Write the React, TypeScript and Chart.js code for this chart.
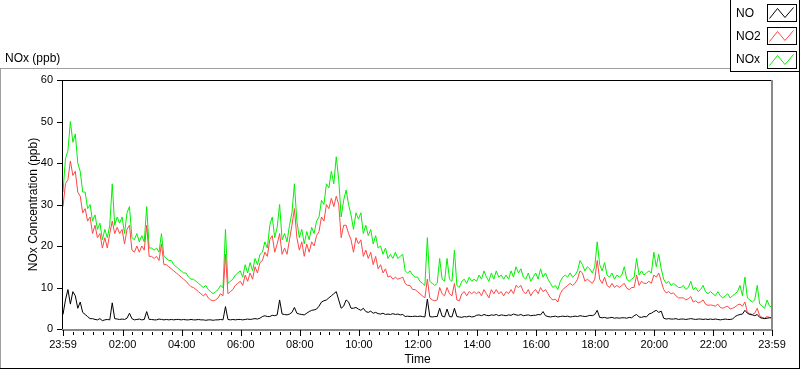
import { useEffect, useRef } from 'react';
import { Chart, registerables } from 'chart.js';
Chart.register(...registerables);

const STEP_MINUTES = 5;

const SERIES_NAMES = ['NO', 'NO2', 'NOx'];
const SERIES_COLORS = ['#000000', '#ff4646', '#00f000'];

// NO (ppb), every 5 minutes from 23:59
const NO = [
  3.5, 7, 9.5, 6, 9, 8, 5, 6.5, 4, 3.5, 3, 2.5,
  2.5, 2.3, 2.2, 2.5, 2, 2.2, 2.3, 2.2, 6.3, 2.5, 2.4, 2.3,
  2.4, 2.3, 2.6, 3.8, 2.5, 2.2, 2.3, 2.4, 2.2, 2.3, 4.2, 2.3,
  2.3, 2.2, 2.2, 2.4, 2.3, 2.2, 2.3, 2.2, 2.3, 2.2, 2.3, 2.3,
  2.2, 2.3, 2.2, 2.2, 2.3, 2.2, 2.2, 2.3, 2.2, 2.2, 2.1, 2.2,
  2.2, 2.1, 2.2, 2.2, 2.3, 2.2, 5.4, 2.3, 2.2, 2.3, 2.2, 2.3,
  2.3, 2.2, 2.3, 2.4, 2.3, 2.4, 2.5, 2.4, 2.6, 3, 3.2, 3,
  3, 3.3, 3.2, 3.4, 7, 3.6, 3.5, 3.4, 3.6, 4, 5.2, 3.8,
  3.6, 3.5, 3.4, 3.8, 4.2, 4.5, 4.6, 4.8, 5.5, 6.5, 6.8, 7,
  7.5, 8, 8.5, 9, 7, 5, 5.5, 7, 6.5, 5, 5, 5.2,
  4.8, 4.5, 5, 4.2, 4, 4.3, 3.8, 4, 3.7, 3.6, 3.8, 3.5,
  3.6, 3.5, 3.7, 3.5, 3.6, 3.4, 3.5, 3, 3.1, 3, 3, 3.1,
  3, 3.1, 3, 2.9, 7.2, 3, 2.9, 3, 3, 5, 3.1, 2.9,
  4.8, 3, 2.9, 5, 3, 2.9, 2.8, 3, 2.9, 3.1, 2.9, 3,
  3.3, 3.4, 3.2, 3.5, 3.3, 3.2, 3.4, 3.3, 3.5, 3.2, 3.4, 3.3,
  3.2, 3.4, 3.3, 3.6, 3.4, 3.3, 3.5, 3.2, 3.3, 3.4, 3.2, 3.3,
  3.3, 3.5, 3.4, 4.2, 3.2, 3, 2.9, 3, 3.1, 2.9, 3, 3.1,
  3, 3.1, 2.9, 3, 3.1, 3, 3.2, 3.1, 3, 3.1, 3.3, 3.2,
  3.5, 4.5, 2.8, 2.7, 2.8, 2.6, 2.7, 2.8, 2.6, 2.7, 2.6, 2.7,
  2.7, 2.6, 2.8, 2.7, 3.2, 3.5, 2.9, 2.8, 3, 2.9, 3.6, 3.8,
  4.2, 4.5, 4, 4.3, 2.6, 2.4, 2.5, 2.4, 2.4, 2.5, 2.3, 2.4,
  2.4, 2.3, 2.4, 2.5, 2.4, 2.3, 2.4, 2.4, 2.3, 2.4, 2.3, 2.4,
  2.3, 2.4, 2.3, 2.2, 2.3, 2.4, 2.3, 2.3, 2.4, 3, 3.3, 3.5,
  3.6, 4.5, 3.8, 3.5, 3.4, 3.2, 3.5, 2.8, 2.6, 2.5, 2.6, 2.7, 2.7,
];

// NO2 (ppb)
const NO2 = [
  29.5, 35, 36, 40.5, 37, 38, 33, 32, 28, 29, 26, 27,
  23, 25, 22, 23, 19.5, 22, 19.5, 23, 26, 23, 24.5, 23,
  24, 20.5, 24, 25, 19, 18.5, 20, 18.5, 20, 19, 25, 17.5,
  17.5, 17, 17.5, 16.5, 20.5, 15.5, 15.5, 15, 14.5, 14, 13.5, 13,
  12.5, 12, 11.5, 10.8, 10.2, 10, 9.5, 9, 8.5, 8, 8.5, 7.5,
  7, 6.8, 7, 7.5, 8.5, 8, 18, 8.5, 9, 9.5, 10.5, 11,
  11.5, 10.5, 13, 11.5, 13.5, 12, 15, 13.5, 16, 16.5, 18.5, 17.5,
  21.5, 22.5, 18.5, 20.5, 23, 18, 19.5, 18, 21.5, 25, 29, 22,
  19, 21, 17.5, 20.5, 18.5, 21, 20, 22.5, 23.5, 27, 26, 30,
  29, 31.5, 29.5, 32, 30, 22, 25, 25, 23, 21.5, 18.5, 22,
  20.5, 21.5, 17.5, 19, 17, 18.5, 15.5, 17.5, 14.5, 15.5, 13.5, 14.5,
  12.5, 12.8, 12, 12.5, 12, 12.2, 12.5, 11, 10.5, 10.5, 9.5, 9.5,
  9, 8.5, 8, 7.5, 12, 7.5, 7, 6.8, 7, 10, 8.5, 8,
  10, 8.5, 8, 11, 7, 6.8, 8.5, 9, 8, 9, 8.5, 9,
  8.5, 9, 8, 9.5, 8.5, 7.5, 9.5, 8.5, 9.5, 8.5, 9, 8,
  9, 8.5, 9.5, 8.5, 10.5, 10, 10.5, 9, 8.5, 9.5, 8, 9,
  9.5, 8.5, 10, 9, 9.5, 8.5, 7.5, 7, 7.2, 6.5, 8.5, 9.5,
  10, 10.5, 11, 10.5, 11, 12, 14, 13.5, 11.5, 12, 11.5, 11,
  12, 16.5, 12, 11, 12.5, 10.5, 10, 11, 10, 10.5, 10, 10.5,
  11, 9.8, 9.5, 10, 10, 13, 10.5, 11.5, 11, 11, 11.5, 11,
  13, 12.5, 13.5, 11.5, 9.5, 8.7, 9, 8.5, 8.7, 8, 7.5, 7.5,
  7.5, 7, 7.3, 7.8, 6.5, 6.8, 6.3, 6.5, 7, 6, 5.7, 5.8,
  5.7, 5.5, 6, 5.2, 5, 5.3, 5.5, 4.8, 5, 5.3, 5.8, 6,
  5.5, 6.5, 4, 3.7, 3.5, 3.8, 5, 3.2, 2.8, 2.6, 3, 2.8, 2.6,
];

// NOx (ppb)
const NOX = [
  33, 41, 43, 50, 45, 47, 40, 38, 33, 33, 29, 30,
  26, 27.5, 24, 25.5, 21.5, 24, 22, 25, 35, 25, 27, 25.5,
  27, 23, 28, 29.5, 22, 21.5, 23, 21, 22.5, 21, 29.5, 19.5,
  19.5, 19, 19.5, 18.5, 23, 17.5, 17, 16.5, 16.5, 15.5, 15, 14.5,
  14, 13.5, 13.5, 12.5, 12, 12, 11.5, 11, 10.5, 10, 10.5, 9.5,
  9, 8.5, 9, 9.5, 10.5, 10, 24, 11, 11.5, 12, 13, 13.5,
  14, 12.5, 15.5, 13.5, 16, 14, 17, 15.5, 18, 18.5, 21, 19.5,
  25, 27, 22, 24.5, 30, 21.5, 23, 21, 25, 28, 35, 26,
  22, 24, 20.5, 23.5, 21.5, 24.5, 23, 26, 27, 31, 30, 35,
  34, 38, 35, 41.5, 36, 27, 31, 33.5, 30, 27.5, 24, 28,
  26.5, 28, 23, 25, 22.5, 24, 20.5, 22.5, 19.5, 20, 18, 19.5,
  17, 18, 17, 18.5, 17, 17.5, 18, 14, 13.5, 14, 13, 12.5,
  12.5, 11.5, 11, 10.5, 22, 11.5, 11, 10.5, 11, 17, 12, 11.5,
  17, 12, 11.5, 19, 10.5, 10, 11.5, 12, 11, 12.5, 11.5, 12,
  11.5, 13, 12, 14, 12.5, 11.5, 13.5, 12, 14, 12.5, 13, 12,
  13, 12, 14, 12.5, 15, 13.5, 14.5, 12.5, 12, 13.5, 11.5, 12.5,
  13.5, 12, 14.5, 12.5, 13.5, 12, 11, 10, 10.5, 9.5, 11.5, 12.5,
  13, 12.5, 13.5, 12.5, 13, 14, 16.5, 15.5, 14, 15, 14.5, 13.5,
  15, 21, 15.5, 14, 16, 13, 12.5, 13.5, 12, 13, 12.5, 13,
  15, 12, 11.5, 12, 12.5, 17, 13, 14, 13, 13.5, 14, 13.5,
  18.5, 15, 18, 14.5, 12, 11, 11.5, 10.5, 11, 10.5, 10, 10,
  10.5, 9.5, 10, 11.5, 9.5, 10, 9, 9.5, 10.5, 9, 8.5, 9,
  8.5, 8, 9, 8, 7.5, 8, 8.5, 7.5, 8, 8.5, 9, 10.5,
  8, 12.5, 7.5, 7, 6.5, 7, 10.5, 6, 5.5, 5, 7, 5.5, 5.3,
];

const X_TICK_MINUTES = [0, 121, 241, 361, 481, 601, 721, 841, 961, 1081, 1201, 1321, 1440];
const X_TICK_LABELS = ['23:59', '02:00', '04:00', '06:00', '08:00', '10:00', '12:00', '14:00', '16:00', '18:00', '20:00', '22:00', '23:59'];
const Y_TICKS = [0, 10, 20, 30, 40, 50, 60];

const TITLE = 'NOx (ppb)';
const X_TITLE = 'Time';
const Y_TITLE = 'NOx Concentration (ppb)';

const FONT = '"Liberation Sans", Arial, sans-serif';

const framePlugin = {
  id: 'frame',
  afterDraw(chart: any) {
    const ctx = chart.ctx as CanvasRenderingContext2D;
    const xs = chart.scales.x;
    const ys = chart.scales.y;
    const ca = chart.chartArea;
    ctx.save();
    // outer frame
    ctx.fillStyle = '#a0a0a0';
    ctx.fillRect(0, 68, 730, 1);
    ctx.fillRect(0, 68, 1, 301);
    ctx.fillStyle = '#000';
    ctx.fillRect(0, 368, 800, 1);
    ctx.fillRect(799, 0, 1, 369);
    // legend box
    ctx.fillStyle = '#fff';
    ctx.fillRect(730, 0, 69, 71);
    ctx.fillStyle = '#000';
    ctx.fillRect(730, 0, 1, 72);
    ctx.fillRect(730, 71, 70, 1);
    ctx.fillRect(799, 0, 1, 72);
    ctx.font = '12px ' + FONT;
    ctx.textBaseline = 'middle';
    ctx.textAlign = 'left';
    for (let i = 0; i < SERIES_NAMES.length; i++) {
      const cy = 13 + i * 23.3;
      ctx.fillStyle = '#000';
      ctx.fillText(SERIES_NAMES[i], 736, cy + 0.5);
      const bx = 767, by = Math.round(cy - 9);
      ctx.strokeStyle = '#000';
      ctx.lineWidth = 1;
      ctx.strokeRect(bx + 0.5, by + 0.5, 29, 17);
      ctx.strokeStyle = SERIES_COLORS[i];
      ctx.beginPath();
      ctx.moveTo(bx + 2.5, by + 14.5);
      ctx.lineTo(bx + 10.5, by + 4.5);
      ctx.lineTo(bx + 18, by + 13.5);
      ctx.lineTo(bx + 26.5, by + 3.5);
      ctx.stroke();
    }
    // title
    ctx.fillStyle = '#000';
    ctx.font = '12px ' + FONT;
    ctx.fillText(TITLE, 5, 59);
    // plot frame
    ctx.fillStyle = '#000';
    ctx.fillRect(ca.left - 1, ca.top, 1, ca.bottom - ca.top + 1);
    ctx.fillRect(ca.left - 1, ca.top, ca.right - ca.left + 1, 1);
    ctx.fillStyle = '#8a8a8a';
    ctx.fillRect(ca.right - 1, ca.top, 2, ca.bottom - ca.top + 2);
    ctx.fillRect(ca.left - 1, ca.bottom, ca.right - ca.left + 2, 2);
    // y ticks
    ctx.fillStyle = '#000';
    for (const v of Y_TICKS) {
      const y = Math.round(ys.getPixelForValue(v));
      ctx.fillRect(ca.left - 6, y, 5, 1);
    }
    // x ticks
    for (const m of X_TICK_MINUTES) {
      const x = Math.round(xs.getPixelForValue(m));
      ctx.fillRect(x, ca.bottom + 1, 1, 6);
    }
    for (let m = 21; m < 1440; m += 20) {
      if ((m - 1) % 120 === 0) continue;
      const x = Math.round(xs.getPixelForValue(m));
      ctx.fillRect(x, ca.bottom + 3, 1, 3);
    }
    ctx.restore();
  },
};

export default function App() {
  const ref = useRef<HTMLCanvasElement | null>(null);
  useEffect(() => {
    if (!ref.current) return;
    const series = [NO, NO2, NOX];
    const chart = new Chart(ref.current, {
      type: 'line',
      data: {
        datasets: series.map((arr, i) => ({
          label: SERIES_NAMES[i],
          data: arr.map((v, k) => ({ x: k * STEP_MINUTES, y: v })),
          borderColor: SERIES_COLORS[i],
          backgroundColor: SERIES_COLORS[i],
          borderWidth: 1,
          pointRadius: 0,
          tension: 0,
          fill: false,
        })),
      },
      options: {
        animation: false,
        responsive: false,
        maintainAspectRatio: false,
        events: [],
        layout: { padding: { top: 80, right: 28, left: 0, bottom: 0 } },
        plugins: { legend: { display: false }, tooltip: { enabled: false } },
        scales: {
          x: {
            type: 'linear',
            min: 0,
            max: 1440,
            afterBuildTicks: (s: any) => {
              s.ticks = X_TICK_MINUTES.map((v) => ({ value: v }));
            },
            afterFit: (s: any) => {
              s.height = 40;
            },
            ticks: {
              autoSkip: false,
              maxRotation: 0,
              minRotation: 0,
              padding: 9,
              color: '#000',
              font: { family: FONT, size: 11, lineHeight: 1.2 },
              callback: (v: any) => {
                const i = X_TICK_MINUTES.indexOf(Number(v));
                return i >= 0 ? X_TICK_LABELS[i] : '';
              },
            },
            grid: { display: false, drawTicks: false },
            border: { display: false },
            title: {
              display: true,
              text: X_TITLE,
              color: '#000',
              font: { family: FONT, size: 12, lineHeight: 1.2 },
              padding: { top: 0, bottom: 2 },
            },
          },
          y: {
            type: 'linear',
            min: 0,
            max: 60,
            afterBuildTicks: (s: any) => {
              s.ticks = Y_TICKS.map((v) => ({ value: v }));
            },
            afterFit: (s: any) => {
              s.width = 63;
            },
            ticks: {
              padding: 10,
              color: '#000',
              font: { family: FONT, size: 11, lineHeight: 1.2 },
            },
            grid: { display: false, drawTicks: false },
            border: { display: false },
            title: {
              display: true,
              text: Y_TITLE,
              color: '#000',
              font: { family: FONT, size: 12, lineHeight: 1.2 },
              padding: { top: 26, bottom: 0 },
            },
          },
        },
      },
      plugins: [framePlugin],
    } as any);
    return () => chart.destroy();
  }, []);
  return (
    <div style={{ position: 'absolute', left: 0, top: 0, width: 800, height: 369, background: '#fff' }}>
      <canvas ref={ref} width={800} height={369} style={{ display: 'block', width: 800, height: 369 }} />
    </div>
  );
}
